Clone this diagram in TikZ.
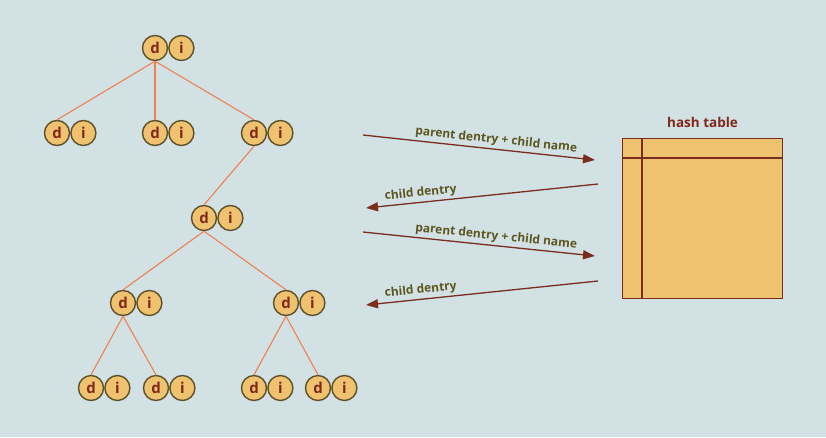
\documentclass[tikz,border=0pt]{standalone}
\usepackage{fontspec}
\setmainfont{Open Sans}
\usepackage{xcolor}
\usetikzlibrary{positioning,arrows.meta}
\definecolor{bgblue}{RGB}{210, 225, 228}
\definecolor{nodegold}{RGB}{239, 194, 112}
\definecolor{nodeedge}{RGB}{94, 80, 40}
\definecolor{letterred}{RGB}{128, 40, 26}
\definecolor{treeorange}{RGB}{240, 128, 80}
\definecolor{arrowred}{RGB}{122, 44, 30}
\definecolor{labelolive}{RGB}{92, 86, 30}

\begin{document}
\begin{tikzpicture}[x=1pt, y=-1pt,
    half/.style={draw=nodeedge, line width=1.4pt, circle, fill=nodegold, minimum size=25pt, inner sep=0pt,
        font=\fontsize{15}{15}\selectfont\bfseries, text=letterred},
    branch/.style={draw=treeorange, line width=1.1pt},
    msg/.style={draw=arrowred, line width=1.3pt, -{Triangle[length=12pt,width=9pt]}},
    msglabel/.style={font=\fontsize{12}{12}\selectfont\bfseries, text=labelolive, sloped, above, inner sep=2.5pt}]
    \fill[bgblue] (0,0) rectangle (826,437);
    \useasboundingbox (0,0) rectangle (826,437);

    % dentry/inode pairs of the tree
    \foreach \n/\x/\y in {root/155/48, a/57/133, b/155/133, c/254/133, m/204/218,
                          l/123/303, r/286/303, la/91/388, lb/156/388, ra/254/388, rb/318/388} {
        \node[half] (\n-d) at (\x,\y) {d};
        \node[half, right=0pt of \n-d] (\n-i) {i};
    }

    \draw[branch] (root-d.south) -- (a-d.north);
    \draw[branch] (root-d.south) -- (b-d.north);
    \draw[branch] (root-d.south) -- (c-d.north);
    \draw[branch] (c-d.south) -- (m-d.north);
    \draw[branch] (m-d.south) -- (l-d.north);
    \draw[branch] (m-d.south) -- (r-d.north);
    \draw[branch] (l-d.south) -- (la-d.north);
    \draw[branch] (l-d.south) -- (lb-d.north);
    \draw[branch] (r-d.south) -- (ra-d.north);
    \draw[branch] (r-d.south) -- (rb-d.north);

    % hash table
    \node[draw=arrowred, line width=1.1pt, fill=nodegold, minimum width=160pt, minimum height=160pt,
          inner sep=0pt, anchor=north west] (table) at (622,138) {};
    \draw[arrowred, line width=1.1pt] ([xshift=20pt]table.north west) -- ([xshift=20pt]table.south west);
    \draw[arrowred, line width=1.1pt] ([yshift=-20pt]table.north west) -- ([yshift=-20pt]table.north east);
    \node[font=\fontsize{13.5}{14}\selectfont\bfseries, text=letterred, above=7pt of table.north] (title) {hash table};

    % lookups
    \coordinate (ask1) at (363,135);
    \coordinate (get1) at (595,160);
    \coordinate (ret1) at (598,184);
    \coordinate (back1) at (366,208);
    \coordinate (ask2) at (363,232);
    \coordinate (get2) at (595,256);
    \coordinate (ret2) at (598,281);
    \coordinate (back2) at (366,305);

    \draw[msg] (ask1) -- (get1) node[msglabel, pos=0.57] {parent dentry + child name};
    \draw[msg] (ret1) -- (back1) node[msglabel, pos=0.76] {child dentry};
    \draw[msg] (ask2) -- (get2) node[msglabel, pos=0.57] {parent dentry + child name};
    \draw[msg] (ret2) -- (back2) node[msglabel, pos=0.76] {child dentry};
\end{tikzpicture}
\end{document}
